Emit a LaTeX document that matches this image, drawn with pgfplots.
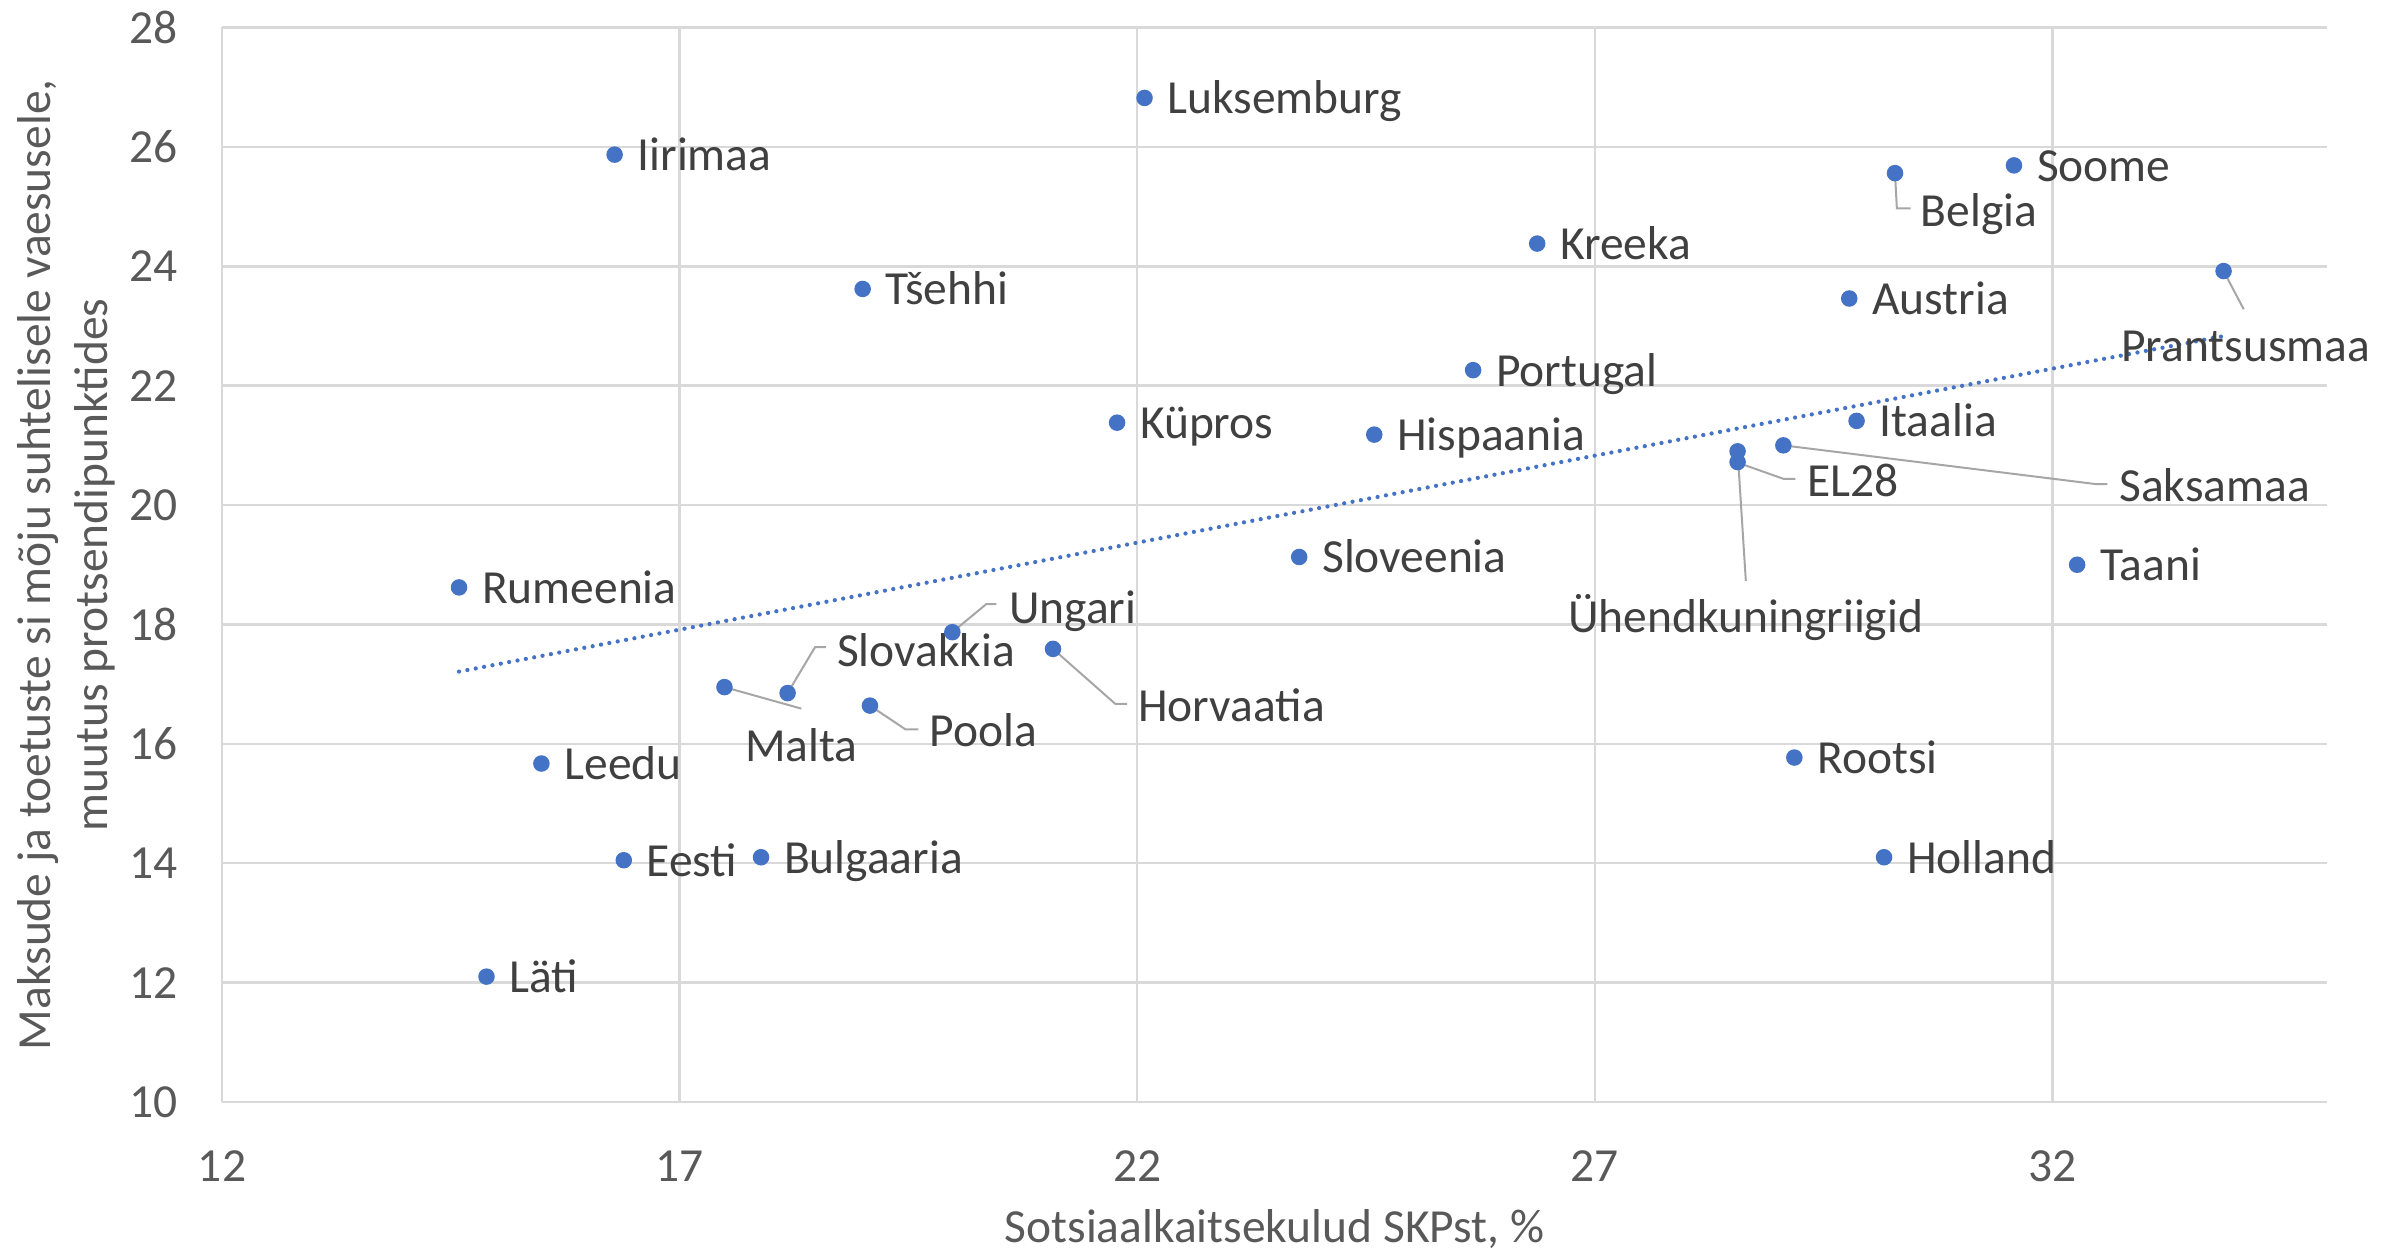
\documentclass[border=0pt]{standalone}
\usepackage{fontspec}
\setmainfont{Carlito}
\usepackage{pgfplots}
\pgfplotsset{compat=1.18}
\definecolor{dotblue}{HTML}{4472C4}
\definecolor{lbl}{HTML}{404040}
\definecolor{tck}{HTML}{595959}
\definecolor{grd}{HTML}{D9D9D9}
\definecolor{ldrc}{HTML}{A6A6A6}
\begin{document}
\begin{tikzpicture}[
 lab/.style={inner sep=0pt, text height=7.1pt, text depth=2.4pt, yshift=-0.85pt, font=\fontsize{9.5}{11.4}\selectfont, text=lbl},
 dl/.style={lab, anchor=west, xshift=4.4pt},
 ll/.style={lab, anchor=west},
 ldr/.style={draw=ldrc, line width=0.4pt}]
\useasboundingbox (-44.4pt,-31pt) rectangle (435.6pt,220.4pt);
\begin{axis}[
 scale only axis, width=421pt, height=214.9pt,
 xmin=12, xmax=35, ymin=10, ymax=28,
 xtick={12,17,22,27,32}, ytick={10,12,...,28},
 grid=major, major grid style={draw=grd, line width=0.5pt},
 axis line style={draw=none}, tick style={draw=none},
 clip=false,
 /pgf/number format/assume math mode=true,
 ticklabel style={font=\fontsize{9.5}{11.4}\selectfont, text=tck, inner sep=0pt},
 yticklabel style={xshift=-8.7pt},
 xticklabel style={yshift=-9.6pt},
 every axis x label/.style={at={(axis description cs:0.5,-0.1182)}, anchor=center, font=\fontsize{9.5}{11.4}\selectfont, text=tck},
 every axis y label/.style={at={(axis description cs:-0.0741,0.5)}, anchor=center, rotate=90, align=center, font=\fontsize{9.5}{11.4}\selectfont, text=tck},
 xlabel={Sotsiaalkaitsekulud SKPst, \%},
 ylabel={Maksude ja toetuste si mõju suhtelisele vaesusele,\\ muutus protsendipunktides},
]
% trendline
\addplot[dotblue, line width=0.85pt, line cap=round, dash pattern=on 0pt off 1.7pt] coordinates {(14.59,17.21) (33.87,22.83)};
% leader lines
\draw[ldr] (axis cs:30.28,25.56) -- (axis cs:30.30,24.97) -- (axis cs:30.45,24.97);
\draw[ldr] (axis cs:33.87,23.92) -- (axis cs:34.09,23.28);
\draw[ldr] (axis cs:29.06,21.00) -- (axis cs:32.48,20.35) -- (axis cs:32.60,20.35);
\draw[ldr] (axis cs:28.58,20.70) -- (axis cs:29.06,20.44) -- (axis cs:29.19,20.44);
\draw[ldr] (axis cs:28.56,20.90) -- (axis cs:28.65,18.73);
\draw[ldr] (axis cs:19.98,17.87) -- (axis cs:20.35,18.34) -- (axis cs:20.46,18.34);
\draw[ldr] (axis cs:18.18,16.85) -- (axis cs:18.48,17.62) -- (axis cs:18.60,17.62);
\draw[ldr] (axis cs:17.49,16.95) -- (axis cs:18.33,16.59);
\draw[ldr] (axis cs:19.08,16.64) -- (axis cs:19.47,16.24) -- (axis cs:19.61,16.24);
\draw[ldr] (axis cs:21.08,17.59) -- (axis cs:21.76,16.67) -- (axis cs:21.89,16.67);
% data points
\addplot[only marks, mark=*, mark size=1.45pt, mark options={draw=dotblue, fill=dotblue}] coordinates {
(22.08,26.82) (16.29,25.87) (19.00,23.62) (21.78,21.38) (26.37,24.38)
(25.67,22.26) (24.59,21.18) (23.77,19.13) (30.28,25.56) (31.58,25.69)
(29.78,23.46) (33.87,23.92) (29.86,21.41) (29.06,21.00) (28.56,20.90)
(28.56,20.72) (32.27,19.00) (29.18,15.77) (30.16,14.10) (14.59,18.62)
(15.49,15.67) (16.39,14.05) (14.89,12.10) (17.89,14.10) (17.49,16.95)
(18.18,16.85) (19.08,16.64) (19.98,17.87) (21.08,17.59)
};
% labels in default position (right of point)
\node[dl] at (axis cs:22.08,26.82) {Luksemburg};
\node[dl] at (axis cs:16.29,25.87) {Iirimaa};
\node[dl] at (axis cs:19.00,23.62) {Tšehhi};
\node[dl] at (axis cs:21.78,21.38) {Küpros};
\node[dl] at (axis cs:26.37,24.38) {Kreeka};
\node[dl] at (axis cs:25.67,22.26) {Portugal};
\node[dl] at (axis cs:24.59,21.18) {Hispaania};
\node[dl] at (axis cs:23.77,19.13) {Sloveenia};
\node[dl] at (axis cs:31.58,25.69) {Soome};
\node[dl] at (axis cs:29.78,23.46) {Austria};
\node[dl] at (axis cs:29.86,21.41) {Itaalia};
\node[dl] at (axis cs:32.27,19.00) {Taani};
\node[dl] at (axis cs:29.18,15.77) {Rootsi};
\node[dl] at (axis cs:30.16,14.10) {Holland};
\node[dl] at (axis cs:14.59,18.62) {Rumeenia};
\node[dl] at (axis cs:15.49,15.67) {Leedu};
\node[dl] at (axis cs:16.39,14.05) {Eesti};
\node[dl] at (axis cs:14.89,12.10) {Läti};
\node[dl] at (axis cs:17.89,14.10) {Bulgaaria};
% moved labels
\node[ll] at (axis cs:30.55,24.93) {Belgia};
\node[ll] at (axis cs:32.74,22.68) {Prantsusmaa};
\node[ll] at (axis cs:32.72,20.32) {Saksamaa};
\node[ll] at (axis cs:29.31,20.41) {EL28};
\node[lab, anchor=center] at (axis cs:28.65,18.14) {Ühendkuningriigid};
\node[ll] at (axis cs:20.59,18.28) {Ungari};
\node[ll] at (axis cs:18.71,17.57) {Slovakkia};
\node[lab, anchor=center] at (axis cs:18.33,15.98) {Malta};
\node[ll] at (axis cs:19.72,16.23) {Poola};
\node[ll] at (axis cs:22.00,16.64) {Horvaatia};
\end{axis}
\end{tikzpicture}
\end{document}
